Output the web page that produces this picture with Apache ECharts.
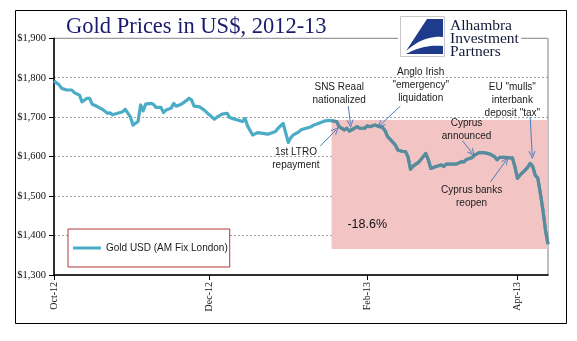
<!DOCTYPE html>
<html>
<head>
<meta charset="utf-8">
<script src="https://cdn.jsdelivr.net/npm/echarts@6/dist/echarts.min.js"></script>
<style>
  html, body { margin: 0; padding: 0; background: #fff; }
  #chart { width: 577px; height: 341px; }
</style>
</head>
<body>
<div id="chart"></div>
<script>
// Gold, London AM fix in US$, Oct 2012 - Apr 2013
const dates = [
  '2012-10-01','2012-10-03','2012-10-04','2012-10-06','2012-10-08','2012-10-09','2012-10-11','2012-10-12',
  '2012-10-14','2012-10-15','2012-10-16','2012-10-18','2012-10-20','2012-10-22','2012-10-23','2012-10-24',
  '2012-10-26','2012-10-28','2012-10-29','2012-10-31','2012-11-01','2012-11-03','2012-11-04','2012-11-05',
  '2012-11-06','2012-11-08','2012-11-09','2012-11-10','2012-11-12','2012-11-13','2012-11-14','2012-11-16',
  '2012-11-17','2012-11-18','2012-11-20','2012-11-22','2012-11-23','2012-11-24','2012-11-25','2012-11-27',
  '2012-11-29','2012-12-01','2012-12-03','2012-12-04','2012-12-06','2012-12-08','2012-12-09','2012-12-10',
  '2012-12-12','2012-12-14','2012-12-15','2012-12-16','2012-12-18','2012-12-20','2012-12-24','2012-12-27',
  '2012-12-28','2012-12-30','2013-01-01','2013-01-02','2013-01-03','2013-01-05','2013-01-06','2013-01-08',
  '2013-01-10','2013-01-11','2013-01-12','2013-01-14','2013-01-15','2013-01-17','2013-01-18','2013-01-20',
  '2013-01-21','2013-01-23','2013-01-24','2013-01-25','2013-01-27','2013-01-28','2013-01-29','2013-01-31',
  '2013-02-01','2013-02-02','2013-02-04','2013-02-06','2013-02-07','2013-02-08','2013-02-09','2013-02-12',
  '2013-02-13','2013-02-15','2013-02-16','2013-02-17','2013-02-18','2013-02-19','2013-02-21','2013-02-22',
  '2013-02-24','2013-02-25','2013-02-26','2013-02-28','2013-03-02','2013-03-03','2013-03-04','2013-03-06',
  '2013-03-08','2013-03-10','2013-03-11','2013-03-12','2013-03-14','2013-03-15','2013-03-17','2013-03-19',
  '2013-03-21','2013-03-23','2013-03-24','2013-03-25','2013-03-27','2013-03-29','2013-03-30','2013-03-31',
  '2013-04-01','2013-04-02','2013-04-04','2013-04-05','2013-04-06','2013-04-07','2013-04-08','2013-04-09',
  '2013-04-10','2013-04-11','2013-04-12','2013-04-13'
];
const goldUsd = [
  1792,1782,1773,1769,1769,1762,1756,1739,
  1748,1748,1733,1727,1720,1710,1711,1706,
  1710,1714,1720,1701,1680,1689,1731,1716,
  1733,1735,1733,1725,1725,1712,1718,1723,
  1735,1728,1733,1742,1748,1744,1728,1727,
  1718,1706,1695,1700,1708,1710,1699,1697,
  1693,1689,1697,1678,1655,1661,1657,1664,
  1672,1684,1636,1648,1655,1662,1668,1672,
  1676,1680,1682,1687,1690,1692,1691,1689,
  1676,1668,1672,1665,1672,1676,1672,1672,
  1678,1676,1680,1676,1674,1666,1651,1630,
  1617,1613,1613,1600,1568,1576,1585,1592,
  1608,1592,1570,1575,1579,1575,1581,1581,
  1581,1587,1587,1593,1597,1603,1610,1610,
  1607,1600,1592,1598,1598,1597,1597,1575,
  1545,1553,1566,1573,1583,1575,1553,1545,
  1507,1465,1414,1378
];

// Axis extents and labelled dates
const xStart = '2012-10-01';
const xEnd = '2013-04-13';
const xLabelDates = ['2012-10-01', '2012-12-01', '2013-02-01', '2013-04-01'];
const yMin = 1300, yMax = 1900, yStep = 100;

// Shaded decline period (peak to latest fix)
const declineStart = '2013-01-18';
const declineLow = 1366, declineHigh = 1693;
const declineText = '-18.6%';
const declineTextAt = ['2013-02-01', 1427];

// Event notes and their pointers
const notes = [
  { text: 'SNS Reaal\nnationalized', at: ['2013-01-21', 1760] },
  { text: 'Anglo Irish\n"emergency"\nliquidation', at: ['2013-02-22', 1782] },
  { text: 'EU "mulls"\ninterbank\ndeposit "tax"', at: ['2013-03-30', 1744] },
  { text: 'Cyprus\nannounced', at: ['2013-03-12', 1669] },
  { text: 'Cyprus banks\nreopen', at: ['2013-03-14', 1499] },
  { text: '1st LTRO\nrepayment', at: ['2013-01-04', 1594] }
];
const pointers = [
  { from: ['2013-01-24 14:00', 1728], to: ['2013-01-25 10:00', 1683] },
  { from: ['2013-02-14 00:00', 1728], to: ['2013-02-06 02:00', 1680] },
  { from: ['2013-01-13 14:00', 1627], to: ['2013-01-19 19:00', 1668] },
  { from: ['2013-03-10 10:00', 1640], to: ['2013-03-14 07:00', 1609] },
  { from: ['2013-03-21 10:00', 1536], to: ['2013-03-27 14:00', 1591] },
  { from: ['2013-04-06 00:00', 1700], to: ['2013-04-06 19:00', 1604] }
];

const seriesName = 'Gold USD (AM Fix London)';
const MONTHS = ['Jan','Feb','Mar','Apr','May','Jun','Jul','Aug','Sep','Oct','Nov','Dec'];
const ts = s => +echarts.time.parse(s);

const points = dates.map((d, i) => [ts(d), goldUsd[i]]);
const splitAt = dates.indexOf(declineStart);
const declinePoints = points.slice(splitAt);

// quadratic curve sampled into polygon vertices (logo swoosh)
function quad(p0, c, p1, n) {
  const out = [];
  for (let i = 0; i <= n; i++) {
    const t = i / n, u = 1 - t;
    out.push([u * u * p0[0] + 2 * u * t * c[0] + t * t * p1[0], u * u * p0[1] + 2 * u * t * c[1] + t * t * p1[1]]);
  }
  return out;
}
const swooshTop = [[427, 19], [443, 19]].concat(quad([443, 37], [424, 35], [406, 51], 12));
const swooshLow = quad([406, 54], [424, 44], [443, 46], 12).concat([[443, 54]]);

const chart = echarts.init(document.getElementById('chart'), null, { renderer: 'canvas' });

const serif = '"Liberation Serif", "Times New Roman", serif';
const sans = '"Liberation Sans", Arial, sans-serif';
const chevron = 'path://M5,0 L10,10 L8.6,10 L5,2.8 L1.4,10 L0,10 Z';
const xMarks = xLabelDates.map(ts);

chart.setOption({
  animation: false,
  backgroundColor: '#fff',
  title: {
    text: 'Gold Prices in US$, 2012-13',
    left: 66, top: 16, padding: 0,
    textStyle: { fontFamily: serif, fontSize: 22.5, fontWeight: 'normal', color: '#1b1b6e' }
  },
  legend: {
    data: [seriesName],
    left: 68, top: 229,
    padding: [14, 2, 14, 5],
    backgroundColor: '#fff',
    borderColor: '#b33a3a', borderWidth: 1, borderRadius: 0,
    icon: 'rect', itemWidth: 28, itemHeight: 3,
    textStyle: { fontFamily: sans, fontSize: 10, color: '#1a1a1a' }
  },
  grid: {
    left: 54, right: 29, top: 38.3, bottom: 66,
    show: true, borderColor: '#7f7f7f', borderWidth: 1, backgroundColor: 'transparent'
  },
  xAxis: {
    type: 'value',
    min: ts(xStart), max: ts(xEnd),
    axisLine: { show: true, lineStyle: { color: '#000', width: 1.5 } },
    axisTick: { show: true, length: 5, lineStyle: { color: '#000', width: 1 }, customValues: xMarks },
    axisLabel: {
      customValues: xMarks,
      rotate: 90, margin: 7,
      fontFamily: serif, fontSize: 10, color: '#111',
      formatter: v => { const d = new Date(v); return MONTHS[d.getMonth()] + '-' + String(d.getFullYear()).slice(2); }
    },
    splitLine: { show: false }
  },
  yAxis: {
    type: 'value',
    min: yMin, max: yMax, interval: yStep,
    axisLine: { show: true, lineStyle: { color: '#000', width: 1.5 } },
    axisTick: { show: true, length: 5, lineStyle: { color: '#000', width: 1 } },
    axisLabel: {
      margin: 8, fontFamily: serif, fontSize: 10.5, color: '#111',
      formatter: v => '$' + String(v).replace(/\B(?=(\d{3})+(?!\d))/g, ',')
    },
    splitLine: { show: true, lineStyle: { color: '#a0a0a0', width: 1, type: [2, 2] } }
  },
  series: [
    {
      name: seriesName,
      type: 'line',
      data: points,
      symbol: 'none',
      z: 2,
      lineStyle: { color: '#4bacc6', width: 3.2, join: 'round' },
      itemStyle: { color: '#4bacc6' },
      markArea: {
        silent: true,
        itemStyle: { color: '#f2c4c4' },
        data: [[{ coord: [ts(declineStart), declineLow] }, { coord: [ts(xEnd), declineHigh] }]]
      }
    },
    {
      name: 'decline',
      type: 'line',
      data: declinePoints,
      symbol: 'none',
      z: 3,
      lineStyle: { color: '#5b8a9a', width: 3.2, join: 'round' },
      itemStyle: { color: '#5b8a9a' },
      markLine: {
        silent: true,
        symbol: ['none', chevron],
        symbolSize: [7, 8],
        label: { show: false },
        lineStyle: { color: '#4a7ebb', width: 1, type: 'solid' },
        data: pointers.map(p => [{ coord: [ts(p.from[0]), p.from[1]] }, { coord: [ts(p.to[0]), p.to[1]] }])
      },
      markPoint: {
        silent: true,
        symbol: 'circle', symbolSize: 0,
        label: {
          show: true, position: 'inside', formatter: '{b}',
          fontFamily: sans, fontSize: 10, lineHeight: 13, color: '#1a1a1a', align: 'center'
        },
        data: notes.map(n => ({ name: n.text, coord: [ts(n.at[0]), n.at[1]] })).concat([{
          name: declineText,
          coord: [ts(declineTextAt[0]), declineTextAt[1]],
          label: { fontSize: 12.5, color: '#111' }
        }])
      }
    }
  ],
  graphic: [
    // outer frame
    { type: 'rect', z: 20, silent: true, shape: { x: 15.5, y: 10.5, width: 551, height: 313 },
      style: { fill: 'none', stroke: '#000', lineWidth: 1 } },
    // logo block
    { type: 'rect', z: 20, silent: true, shape: { x: 398, y: 12, width: 123, height: 49 },
      style: { fill: '#fff' } },
    { type: 'rect', z: 21, silent: true, shape: { x: 400.5, y: 16.5, width: 44, height: 40 },
      style: { fill: '#fff', stroke: '#c8c8c8', lineWidth: 1 } },
    { type: 'polygon', z: 22, silent: true, shape: { points: swooshTop }, style: { fill: '#1f3c8c' } },
    { type: 'polygon', z: 22, silent: true, shape: { points: swooshLow }, style: { fill: '#1f3c8c' } },
    { type: 'text', z: 22, silent: true, x: 450, y: 25.7,
      style: { text: 'Alhambra', fill: '#151a38', font: '15.5px "Liberation Serif"', verticalAlign: 'middle' } },
    { type: 'text', z: 22, silent: true, x: 450, y: 39,
      style: { text: 'Investment', fill: '#151a38', font: '15.5px "Liberation Serif"', verticalAlign: 'middle' } },
    { type: 'text', z: 22, silent: true, x: 450, y: 51.7,
      style: { text: 'Partners', fill: '#151a38', font: '15.5px "Liberation Serif"', verticalAlign: 'middle' } }
  ]
});
</script>
</body>
</html>
